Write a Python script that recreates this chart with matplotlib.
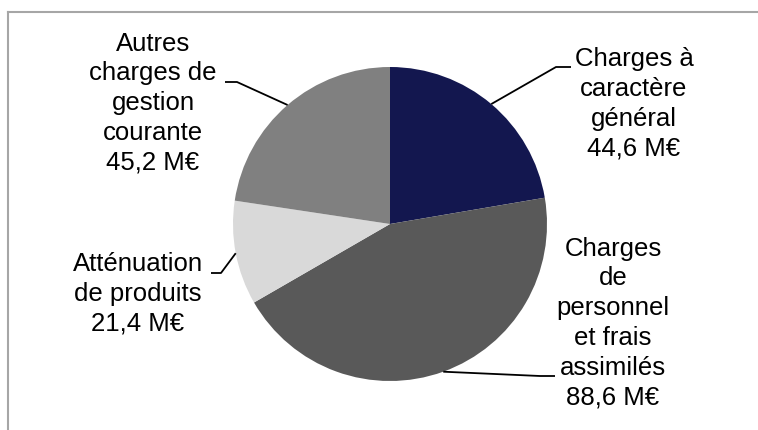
import numpy as np
import matplotlib.pyplot as plt
from matplotlib.lines import Line2D

plt.rcParams['font.family'] = ['Liberation Sans', 'DejaVu Sans']

labels = ["Charges à\ncaractère\ngénéral",
          "Charges\nde\npersonnel\net frais\nassimilés",
          "Atténuation\nde produits",
          "Autres\ncharges de\ngestion\ncourante"]
values = [44.6, 88.6, 21.4, 45.2]
colors = ['#13174F', '#595959', '#D9D9D9', '#808080']

# label block centre, elbow and end of the leader (pixel coords, y up)
label_pos = [(634, 326), (613, 107), (138, 136), (153, 327)]
elbows = [(556, 363), (540, 54), (221, 157), (237, 348)]
ends = [(571, 363), (555, 54), (211, 157), (225, 348)]

W, H = 758, 430
cx, cy, r = 390, 206, 157

fig = plt.figure(figsize=(W / 100, H / 100), dpi=100)
ax = fig.add_axes([0, 0, 1, 1])
wedges, _ = ax.pie(values, colors=colors, startangle=90, counterclock=False,
                   center=(cx, cy), radius=r, frame=True,
                   wedgeprops=dict(linewidth=0))
ax.set_xlim(0, W)
ax.set_ylim(0, H)
ax.set_aspect('equal')
ax.axis('off')

for w, lab, v, pos, el, en in zip(wedges, labels, values, label_pos, elbows, ends):
    mid = np.deg2rad((w.theta1 + w.theta2) / 2)
    sx, sy = cx + r * np.cos(mid), cy + r * np.sin(mid)
    ax.plot([sx, el[0], en[0]], [sy, el[1], en[1]], color='black', lw=1.3,
            solid_capstyle='butt')
    txt = lab + "\n" + f"{v:.1f}".replace('.', ',') + " M€"
    ax.text(pos[0], pos[1], txt, ha='center', va='center', multialignment='center',
            fontsize=18.5, linespacing=1.3, color='black')

# frame of the chart area (left and top edges visible)
fig.add_artist(Line2D([8 / W, 8 / W], [0, 1 - 12 / H], color='#A6A6A6', lw=1.5,
                      transform=fig.transFigure))
fig.add_artist(Line2D([8 / W, 1], [1 - 12 / H, 1 - 12 / H], color='#A6A6A6', lw=1.5,
                      transform=fig.transFigure))

fig.savefig('out.png', dpi=100)
